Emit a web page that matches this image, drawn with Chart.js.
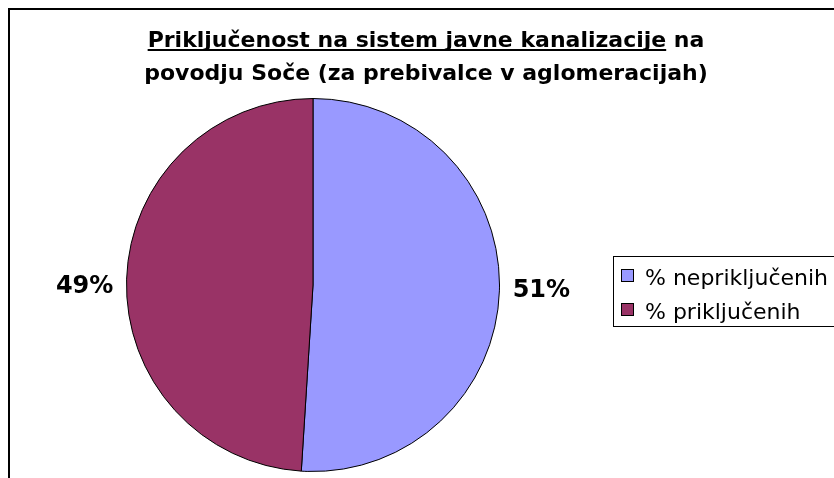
<!DOCTYPE html>
<html>
<head>
<meta charset="utf-8">
<script src="https://cdn.jsdelivr.net/npm/chart.js@4/dist/chart.umd.min.js"></script>
<style>
  html, body { margin: 0; padding: 0; background: #fff; }
  #wrap { width: 834px; height: 478px; position: relative; }
</style>
</head>
<body>
<div id="wrap"><canvas id="pieChart" width="834" height="478"></canvas></div>
<script>
const labels = ['% nepriključenih', '% priključenih'];
const values = [51, 49];
const colors = ['#9999FF', '#993366'];
const titleUnderlined = 'Priključenost na sistem javne kanalizacije';
const titleRest = ' na';
const titleLine2 = 'povodju Soče (za prebivalce v aglomeracijah)';

const fontFamily = 'Tahoma, "DejaVu Sans", Verdana, sans-serif';

// frame, title, slice labels and legend
const decorations = {
  id: 'decorations',
  beforeDraw(chart) {
    const c = chart.ctx;
    c.save();
    c.strokeStyle = '#000';
    c.lineWidth = 2;
    c.beginPath();
    c.moveTo(9, 480);
    c.lineTo(9, 9);
    c.lineTo(840, 9);
    c.stroke();
    c.restore();
  },
  afterDraw(chart) {
    const c = chart.ctx;
    c.save();
    c.fillStyle = '#000';
    c.textBaseline = 'alphabetic';

    // title
    c.font = 'bold 22px ' + fontFamily;
    const cx = 426;
    const w1 = c.measureText(titleUnderlined).width;
    const w2 = c.measureText(titleRest).width;
    let x = cx - (w1 + w2) / 2;
    c.textAlign = 'left';
    c.fillText(titleUnderlined, x, 47);
    c.fillText(titleRest, x + w1, 47);
    c.fillRect(x, 49, w1, 2);
    c.textAlign = 'center';
    c.fillText(titleLine2, cx, 80);

    // percentage labels
    const meta = chart.getDatasetMeta(0);
    const total = values.reduce((a, b) => a + b, 0);
    c.font = 'bold 24px ' + fontFamily;
    meta.data.forEach((arc, i) => {
      const mid = (arc.startAngle + arc.endAngle) / 2;
      const r = arc.outerRadius + 42;
      const lx = arc.x + Math.cos(mid) * r;
      const ly = arc.y + Math.sin(mid) * r * 0.3 + 4;
      c.textAlign = 'center';
      c.textBaseline = 'middle';
      c.fillText(Math.round(values[i] / total * 100) + '%', lx, ly);
    });

    // legend
    c.lineWidth = 1;
    c.strokeStyle = '#000';
    c.strokeRect(613.5, 256.5, 240, 70);
    c.font = '22px ' + fontFamily;
    c.textAlign = 'left';
    c.textBaseline = 'alphabetic';
    labels.forEach((lab, i) => {
      const y = 269 + i * 34;
      c.fillStyle = colors[i];
      c.fillRect(621, y, 13, 13);
      c.strokeRect(621.5, y + 0.5, 12, 12);
      c.fillStyle = '#000';
      c.fillText(lab, 645, y + 16);
    });
    c.restore();
  }
};

new Chart(document.getElementById('pieChart'), {
  type: 'pie',
  data: {
    labels: labels,
    datasets: [{
      data: values,
      backgroundColor: colors,
      borderColor: '#000',
      borderWidth: 1
    }]
  },
  options: {
    responsive: false,
    animation: false,
    layout: { padding: { left: 126, right: 334, top: 98, bottom: 6 } },
    plugins: {
      legend: { display: false },
      tooltip: { enabled: false },
      title: { display: false }
    }
  },
  plugins: [decorations]
});
</script>
</body>
</html>
